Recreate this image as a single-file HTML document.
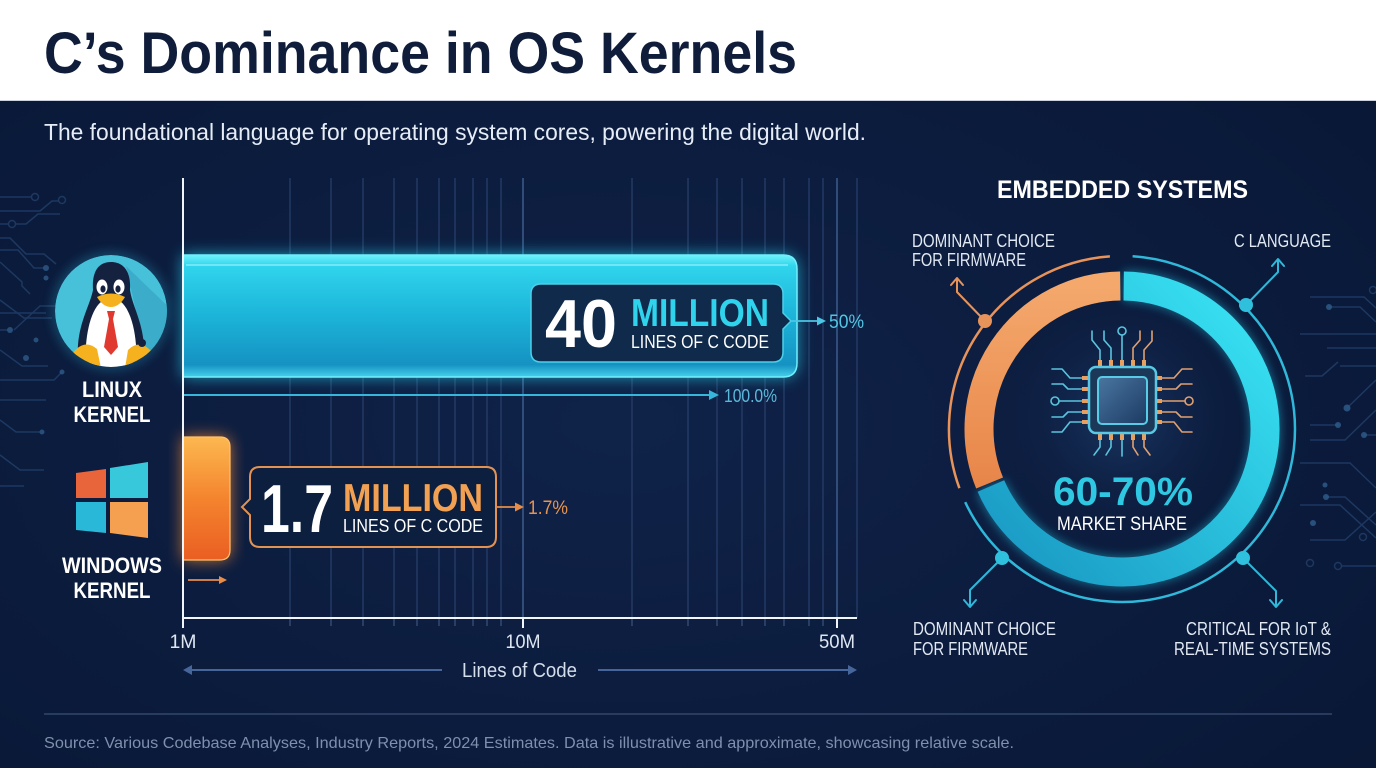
<!DOCTYPE html>
<html>
<head>
<meta charset="utf-8">
<style>
html,body{margin:0;padding:0;width:1376px;height:768px;overflow:hidden;background:#0a1a3a;}
svg{display:block;}
</style>
</head>
<body>
<svg width="1376" height="768" viewBox="0 0 1376 768" xmlns="http://www.w3.org/2000/svg" font-family="'Liberation Sans', Arial, sans-serif">
<defs>
  <radialGradient id="bg" cx="0.45" cy="0.55" r="0.75">
    <stop offset="0" stop-color="#0f2248"/>
    <stop offset="1" stop-color="#091735"/>
  </radialGradient>
  <linearGradient id="barC" x1="0" y1="0" x2="0" y2="1">
    <stop offset="0" stop-color="#6ff2fc"/>
    <stop offset="0.09" stop-color="#30d4ec"/>
    <stop offset="0.5" stop-color="#1cb4d9"/>
    <stop offset="0.9" stop-color="#1592c2"/>
    <stop offset="1" stop-color="#46d0ec"/>
  </linearGradient>
  <linearGradient id="barO" x1="0" y1="0" x2="0" y2="1">
    <stop offset="0" stop-color="#fcb850"/>
    <stop offset="0.5" stop-color="#f4842e"/>
    <stop offset="1" stop-color="#ea5e22"/>
  </linearGradient>
  <linearGradient id="ringC" x1="1" y1="0" x2="0" y2="1">
    <stop offset="0" stop-color="#3ae6f5"/>
    <stop offset="1" stop-color="#1896c2"/>
  </linearGradient>
  <linearGradient id="ringO" x1="0" y1="0" x2="0" y2="1">
    <stop offset="0" stop-color="#f4a86c"/>
    <stop offset="1" stop-color="#e8864a"/>
  </linearGradient>
  <linearGradient id="chipIn" x1="0" y1="0" x2="1" y2="1">
    <stop offset="0" stop-color="#4a76a0"/>
    <stop offset="1" stop-color="#1b3a63"/>
  </linearGradient>
  <radialGradient id="centerGlow" cx="0.5" cy="0.45" r="0.5">
    <stop offset="0" stop-color="#1c3a68" stop-opacity="0.9"/>
    <stop offset="1" stop-color="#0c1d3f" stop-opacity="0"/>
  </radialGradient>
  <filter id="blur8" x="-30%" y="-30%" width="160%" height="160%"><feGaussianBlur stdDeviation="8"/></filter>
  <filter id="blur5" x="-30%" y="-30%" width="160%" height="160%"><feGaussianBlur stdDeviation="5"/></filter>
  <filter id="blur3" x="-30%" y="-30%" width="160%" height="160%"><feGaussianBlur stdDeviation="3"/></filter>
  <clipPath id="pc"><circle cx="111" cy="311" r="56"/></clipPath>
</defs>

<!-- background -->
<rect x="0" y="0" width="1376" height="768" fill="url(#bg)"/>
<rect x="0" y="0" width="1376" height="101" fill="#ffffff"/>
<line x1="0" y1="100.5" x2="1376" y2="100.5" stroke="#c9d2de" stroke-width="1"/>

<text x="44" y="73" font-size="58" font-weight="bold" fill="#0f1d3b" textLength="753" lengthAdjust="spacingAndGlyphs">C’s Dominance in OS Kernels</text>
<text x="44" y="140" font-size="23" fill="#e6edf7" textLength="822" lengthAdjust="spacingAndGlyphs">The foundational language for operating system cores, powering the digital world.</text>

<!-- circuit decorations left -->
<g fill="none" stroke="#1f3c66" stroke-width="1.5" opacity="0.9">
  <path d="M0,197 H31"/><circle cx="35" cy="197" r="3.5"/>
  <path d="M0,211 H40 L52,201 H58"/><circle cx="62" cy="200" r="3.5"/>
  <path d="M0,224 H8"/><circle cx="12" cy="224" r="3.5"/><path d="M16,224 H26 L38,214 H60"/>
  <path d="M0,238 H10 L26,254 H44 L56,264"/>
  <path d="M0,250 H18 L34,268 H44"/>
  <path d="M0,262 L22,282 V286 L30,294"/>
  <path d="M0,300 L24,318 H52"/>
  <path d="M0,313 H46"/>
  <path d="M0,330 H8"/><path d="M14,330 L40,306 H56"/>
  <path d="M0,350 L22,366 H48"/>
  <path d="M0,380 H54 L62,372"/>
  <path d="M0,400 H46"/>
  <path d="M0,420 L16,432 H40"/>
  <path d="M0,455 L20,470 H44"/>
  <path d="M0,486 H24"/>
</g>
<g fill="#2e5a88" opacity="0.8">
  <circle cx="46" cy="268" r="3"/><circle cx="46" cy="278" r="2.5"/>
  <circle cx="10" cy="330" r="3"/><circle cx="36" cy="340" r="2.5"/>
  <circle cx="26" cy="358" r="3"/><circle cx="62" cy="372" r="2.5"/>
  <circle cx="42" cy="432" r="2.5"/>
</g>

<!-- circuit decorations right -->
<g fill="none" stroke="#1f3c66" stroke-width="1.5" opacity="0.9">
  <circle cx="1373" cy="290" r="3.5"/>
  <path d="M1310,297 H1364 L1376,308"/>
  <path d="M1329,307 H1360 L1376,322"/>
  <path d="M1300,334 H1376"/>
  <path d="M1327,348 H1376"/>
  <path d="M1340,366 H1376"/>
  <path d="M1305,376 H1322 L1338,362"/>
  <path d="M1347,408 L1376,380"/>
  <path d="M1310,425 H1338"/>
  <path d="M1310,440 H1345 L1376,410"/>
  <path d="M1364,435 H1376"/>
  <path d="M1300,463 H1350 L1376,488"/>
  <path d="M1326,497 H1345 L1376,525"/>
  <path d="M1300,505 H1340 L1376,538"/>
  <path d="M1310,540 H1345 L1376,512"/>
  <circle cx="1363" cy="537" r="3.5"/>
  <circle cx="1310" cy="563" r="3.5"/><circle cx="1338" cy="566" r="3.5"/>
  <path d="M1342,566 H1376"/>
</g>
<g fill="#2e5a88" opacity="0.85">
  <circle cx="1329" cy="307" r="3"/><circle cx="1347" cy="408" r="3.5"/>
  <circle cx="1338" cy="425" r="3"/><circle cx="1364" cy="435" r="3"/>
  <circle cx="1325" cy="485" r="2.5"/><circle cx="1326" cy="497" r="3"/>
  <circle cx="1313" cy="523" r="3"/>
</g>

<!-- gridlines -->
<g stroke="#28416b" stroke-width="1.2">
  <line x1="290" y1="178" x2="290" y2="618"/>
  <line x1="331" y1="178" x2="331" y2="618"/>
  <line x1="363" y1="178" x2="363" y2="618"/>
  <line x1="394" y1="178" x2="394" y2="618"/>
  <line x1="417" y1="178" x2="417" y2="618"/>
  <line x1="439" y1="178" x2="439" y2="618"/>
  <line x1="455" y1="178" x2="455" y2="618"/>
  <line x1="473" y1="178" x2="473" y2="618"/>
  <line x1="487" y1="178" x2="487" y2="618"/>
  <line x1="501" y1="178" x2="501" y2="618"/>
  <line x1="632" y1="178" x2="632" y2="618"/>
  <line x1="688" y1="178" x2="688" y2="618"/>
  <line x1="717" y1="178" x2="717" y2="618"/>
  <line x1="742" y1="178" x2="742" y2="618"/>
  <line x1="765" y1="178" x2="765" y2="618"/>
  <line x1="784" y1="178" x2="784" y2="618"/>
  <line x1="809" y1="178" x2="809" y2="618"/>
  <line x1="823" y1="178" x2="823" y2="618"/>
  <line x1="857" y1="178" x2="857" y2="618"/>
</g>
<g stroke="#3d5c8c" stroke-width="1.5">
  <line x1="523" y1="178" x2="523" y2="618"/>
  <line x1="837" y1="178" x2="837" y2="618"/>
</g>
<!-- minor ticks -->
<g stroke="#3a5580" stroke-width="1.2">
  <line x1="290" y1="618" x2="290" y2="626"/><line x1="331" y1="618" x2="331" y2="626"/>
  <line x1="363" y1="618" x2="363" y2="626"/><line x1="394" y1="618" x2="394" y2="626"/>
  <line x1="417" y1="618" x2="417" y2="626"/><line x1="439" y1="618" x2="439" y2="626"/>
  <line x1="455" y1="618" x2="455" y2="626"/><line x1="473" y1="618" x2="473" y2="626"/>
  <line x1="487" y1="618" x2="487" y2="626"/><line x1="501" y1="618" x2="501" y2="626"/>
  <line x1="632" y1="618" x2="632" y2="626"/><line x1="688" y1="618" x2="688" y2="626"/>
  <line x1="717" y1="618" x2="717" y2="626"/><line x1="742" y1="618" x2="742" y2="626"/>
  <line x1="765" y1="618" x2="765" y2="626"/><line x1="784" y1="618" x2="784" y2="626"/>
  <line x1="809" y1="618" x2="809" y2="626"/><line x1="823" y1="618" x2="823" y2="626"/>
</g>

<!-- Linux bar -->
<path d="M183,255 H783 Q797,255 797,269 V363 Q797,377 783,377 H183 Z" fill="#22cdea" opacity="0.75" filter="url(#blur8)"/>
<path d="M183,255 H783 Q797,255 797,269 V363 Q797,377 783,377 H183 Z" fill="url(#barC)" stroke="#72eefc" stroke-width="1.5"/>
<line x1="186" y1="265" x2="788" y2="265" stroke="#9ef6ff" stroke-width="2" opacity="0.55"/>

<!-- 40 million box -->
<path d="M541,284 H773 Q783,284 783,294 V313 L791,321 L783,329 V352 Q783,362 773,362 H541 Q531,362 531,352 V294 Q531,284 541,284 Z" fill="#0f2a4b" stroke="#4ccfea" stroke-width="1.5"/>
<text x="545" y="347" font-size="68" font-weight="bold" fill="#ffffff" textLength="72" lengthAdjust="spacingAndGlyphs">40</text>
<text x="631" y="326" font-size="39" font-weight="bold" fill="#2fd3eb" textLength="138" lengthAdjust="spacingAndGlyphs">MILLION</text>
<text x="631" y="348" font-size="18" fill="#ffffff" textLength="138" lengthAdjust="spacingAndGlyphs">LINES OF C CODE</text>

<line x1="791" y1="321" x2="820" y2="321" stroke="#4cc6e4" stroke-width="1.8"/>
<polygon points="826,321 817,316.5 817,325.5" fill="#4cc6e4"/>
<text x="829" y="328" font-size="19" fill="#52c6e4" textLength="35" lengthAdjust="spacingAndGlyphs">50%</text>

<!-- 100% line -->
<line x1="183" y1="395" x2="712" y2="395" stroke="#36b6da" stroke-width="2"/>
<polygon points="719,395 709,390 709,400" fill="#36b6da"/>
<text x="724" y="402" font-size="18" fill="#5bb8da" textLength="53" lengthAdjust="spacingAndGlyphs">100.0%</text>

<!-- Windows bar -->
<path d="M183,437 H220 Q230,437 230,447 V550 Q230,560 220,560 H183 Z" fill="#f78a30" opacity="0.8" filter="url(#blur8)"/>
<path d="M183,437 H220 Q230,437 230,447 V550 Q230,560 220,560 H183 Z" fill="url(#barO)" stroke="#ffc070" stroke-width="1.2"/>

<!-- 1.7 million box -->
<path d="M260,467 H486 Q496,467 496,477 V537 Q496,547 486,547 H260 Q250,547 250,537 V515 L242,507 L250,499 V477 Q250,467 260,467 Z" fill="#0c1f3e" stroke="#e39252" stroke-width="2"/>
<text x="261" y="532" font-size="68" font-weight="bold" fill="#ffffff" textLength="72" lengthAdjust="spacingAndGlyphs">1.7</text>
<text x="343" y="511" font-size="39" font-weight="bold" fill="#f2a052" textLength="140" lengthAdjust="spacingAndGlyphs">MILLION</text>
<text x="343" y="532" font-size="18" fill="#ffffff" textLength="140" lengthAdjust="spacingAndGlyphs">LINES OF C CODE</text>

<line x1="496" y1="507" x2="518" y2="507" stroke="#e88c48" stroke-width="1.8"/>
<polygon points="524,507 515,502.5 515,511.5" fill="#e88c48"/>
<text x="528" y="514" font-size="19" fill="#e8944e" textLength="40" lengthAdjust="spacingAndGlyphs">1.7%</text>

<line x1="188" y1="580" x2="220" y2="580" stroke="#e88c48" stroke-width="1.8"/>
<polygon points="227,580 219,576 219,584" fill="#e88c48"/>

<!-- axes -->
<line x1="183" y1="178" x2="183" y2="619" stroke="#f2f5fa" stroke-width="2"/>
<line x1="182" y1="618" x2="857" y2="618" stroke="#f2f5fa" stroke-width="2"/>
<g stroke="#f2f5fa" stroke-width="2">
  <line x1="183" y1="618" x2="183" y2="628"/>
  <line x1="523" y1="618" x2="523" y2="628"/>
  <line x1="837" y1="618" x2="837" y2="628"/>
</g>
<g font-size="19" fill="#dfe7f2" text-anchor="middle">
  <text x="183" y="648" textLength="27" lengthAdjust="spacingAndGlyphs">1M</text>
  <text x="523" y="648" textLength="35" lengthAdjust="spacingAndGlyphs">10M</text>
  <text x="837" y="648" textLength="36" lengthAdjust="spacingAndGlyphs">50M</text>
</g>
<text x="462" y="677" font-size="20" fill="#d5deeb" textLength="115" lengthAdjust="spacingAndGlyphs">Lines of Code</text>
<line x1="190" y1="670" x2="442" y2="670" stroke="#46659a" stroke-width="2"/>
<polygon points="183,670 192,665 192,675" fill="#46659a"/>
<line x1="598" y1="670" x2="850" y2="670" stroke="#46659a" stroke-width="2"/>
<polygon points="857,670 848,665 848,675" fill="#46659a"/>

<!-- Linux icon -->
<circle cx="111" cy="311" r="60" fill="#2bb6d6" opacity="0.25" filter="url(#blur5)"/>
<g clip-path="url(#pc)">
  <circle cx="111" cy="311" r="56" fill="#47c1da"/>
  <polygon points="126,266 180,318 180,380 146,380 138,320" fill="#38a6c4" opacity="0.8"/>
  <path d="M111,262 C96,262 92,275 93,290 C90,305 80,320 78,345 C76,365 90,374 111,374 C132,374 146,365 144,345 C142,320 132,305 130,290 C131,275 126,262 111,262 Z" fill="#15223f"/>
  <path d="M111,298 C96,298 88,320 86,345 C85,366 98,374 111,374 C124,374 137,366 136,345 C134,320 126,298 111,298 Z" fill="#ffffff"/>
  <ellipse cx="102" cy="287" rx="5.5" ry="7.5" fill="#ffffff"/>
  <ellipse cx="119" cy="287" rx="5.5" ry="7.5" fill="#ffffff"/>
  <ellipse cx="103" cy="289" rx="2.6" ry="3.6" fill="#15223f"/>
  <ellipse cx="118" cy="289" rx="2.6" ry="3.6" fill="#15223f"/>
  <path d="M97,297 Q111,290 125,297 Q119,307 111,307 Q103,307 97,297 Z" fill="#f5b21e"/>
  <polygon points="107,311 115,311 113,319 109,319" fill="#e03a30"/>
  <polygon points="109,319 113,319 118,347 111,355 104,347" fill="#e03a30"/>
  <path d="M72,354 Q84,338 97,349 L101,368 L70,368 Z" fill="#f5b21e"/>
  <path d="M152,352 Q140,338 128,350 L125,368 L154,368 Z" fill="#f5b21e"/>
  <circle cx="142" cy="343" r="4" fill="#15223f"/>
</g>
<g font-size="22" font-weight="bold" fill="#ffffff" text-anchor="middle">
  <text x="112" y="397" textLength="60" lengthAdjust="spacingAndGlyphs">LINUX</text>
  <text x="112" y="422" textLength="77" lengthAdjust="spacingAndGlyphs">KERNEL</text>
  <text x="112" y="573" textLength="100" lengthAdjust="spacingAndGlyphs">WINDOWS</text>
  <text x="112" y="598" textLength="77" lengthAdjust="spacingAndGlyphs">KERNEL</text>
</g>

<!-- Windows logo -->
<polygon points="76,473 106,469 106,498 76,498" fill="#e8643a"/>
<polygon points="110,468 148,462 148,498 110,498" fill="#38c8dc"/>
<polygon points="76,502 106,502 106,533 76,530" fill="#2ab8d8"/>
<polygon points="110,502 148,502 148,538 110,533" fill="#f5a050"/>

<!-- Embedded systems -->
<text x="997" y="198" font-size="25" font-weight="bold" fill="#ffffff" textLength="251" lengthAdjust="spacingAndGlyphs">EMBEDDED SYSTEMS</text>
<g font-size="18" fill="#e2e9f3">
  <text x="912" y="247" textLength="143" lengthAdjust="spacingAndGlyphs">DOMINANT CHOICE</text>
  <text x="912" y="266" textLength="114" lengthAdjust="spacingAndGlyphs">FOR FIRMWARE</text>
  <text x="1234" y="247" textLength="97" lengthAdjust="spacingAndGlyphs">C LANGUAGE</text>
  <text x="913" y="635" textLength="143" lengthAdjust="spacingAndGlyphs">DOMINANT CHOICE</text>
  <text x="913" y="655" textLength="115" lengthAdjust="spacingAndGlyphs">FOR FIRMWARE</text>
  <text x="1186" y="635" textLength="145" lengthAdjust="spacingAndGlyphs">CRITICAL FOR IoT &amp;</text>
  <text x="1174" y="655" textLength="157" lengthAdjust="spacingAndGlyphs">REAL-TIME SYSTEMS</text>
</g>

<!-- donut -->
<circle cx="1122" cy="429" r="128" fill="url(#centerGlow)"/>
<path d="M1123.7,286 A143,143 0 1 1 990.9,486" fill="none" stroke="#22c8e6" stroke-width="30" opacity="0.5" filter="url(#blur5)"/>
<path d="M1123.7,286 A143,143 0 1 1 990.9,486" fill="none" stroke="url(#ringC)" stroke-width="29"/>
<path d="M989.6,483 A143,143 0 0 1 1120.3,286" fill="none" stroke="url(#ringO)" stroke-width="29"/>

<path d="M959.4,488.2 A173,173 0 0 1 1109.9,256.4" fill="none" stroke="#e8935a" stroke-width="2.5"/>
<path d="M1132.6,256.3 A173,173 0 1 1 965.2,502.1" fill="none" stroke="#2fb8da" stroke-width="2.5"/>

<!-- leaders -->
<g fill="none" stroke-width="2" stroke-linecap="round" stroke-linejoin="round">
  <path d="M985,321 L957,292 V279 M951,285 L957,278 L963,285" stroke="#e8935a"/>
  <path d="M1246,305 L1278,272 V260 M1272,266 L1278,259 L1284,266" stroke="#2fb8da"/>
  <path d="M1002,558 L970,590 V606 M964,600 L970,607 L976,600" stroke="#2fb8da"/>
  <path d="M1243,558 L1276,591 V606 M1270,600 L1276,607 L1282,600" stroke="#2fb8da"/>
</g>
<circle cx="985" cy="321" r="7" fill="#e8935a"/>
<circle cx="1246" cy="305" r="7" fill="#2fc0de"/>
<circle cx="1002" cy="558" r="7" fill="#2fc0de"/>
<circle cx="1243" cy="558" r="7" fill="#2fc0de"/>

<!-- chip -->
<g fill="none" stroke-width="1.6" stroke-linecap="round" stroke-linejoin="round">
  <g stroke="#5ac4de">
    <path d="M1100,360 V350 L1092,340 V331"/>
    <path d="M1111,360 V348 L1104,340 V331"/>
    <path d="M1122,360 V335"/>
    <circle cx="1122" cy="331" r="4"/>
    <path d="M1085,378 H1070 L1062,369 H1052"/>
    <path d="M1085,389 H1068 L1063,384 H1052"/>
    <path d="M1085,401 H1059"/>
    <circle cx="1055" cy="401" r="4"/>
    <path d="M1085,412 H1068 L1063,417 H1052"/>
    <path d="M1085,422 H1070 L1062,432 H1052"/>
    <path d="M1100,440 V447 L1094,455"/>
    <path d="M1111,440 V447 L1106,455"/>
    <path d="M1122,440 V456"/>
  </g>
  <g stroke="#e0a070">
    <path d="M1133,360 V348 L1140,340 V331"/>
    <path d="M1144,360 V350 L1152,341 V331"/>
    <path d="M1159,378 H1174 L1182,369 H1192"/>
    <path d="M1159,389 H1176 L1181,384 H1192"/>
    <path d="M1159,401 H1185"/>
    <circle cx="1189" cy="401" r="4"/>
    <path d="M1159,412 H1176 L1181,417 H1192"/>
    <path d="M1159,422 H1174 L1182,432 H1192"/>
    <path d="M1133,440 V447 L1138,455"/>
    <path d="M1144,440 V447 L1150,455"/>
  </g>
</g>
<g fill="#e8a060">
  <rect x="1098" y="360" width="4" height="7"/><rect x="1109" y="360" width="4" height="7"/>
  <rect x="1120" y="360" width="4" height="7"/><rect x="1131" y="360" width="4" height="7"/>
  <rect x="1142" y="360" width="4" height="7"/>
  <rect x="1098" y="433" width="4" height="7"/><rect x="1109" y="433" width="4" height="7"/>
  <rect x="1120" y="433" width="4" height="7"/><rect x="1131" y="433" width="4" height="7"/>
  <rect x="1142" y="433" width="4" height="7"/>
  <rect x="1082" y="376" width="7" height="4"/><rect x="1082" y="387" width="7" height="4"/>
  <rect x="1082" y="399" width="7" height="4"/><rect x="1082" y="410" width="7" height="4"/>
  <rect x="1082" y="420" width="7" height="4"/>
  <rect x="1155" y="376" width="7" height="4"/><rect x="1155" y="387" width="7" height="4"/>
  <rect x="1155" y="399" width="7" height="4"/><rect x="1155" y="410" width="7" height="4"/>
  <rect x="1155" y="420" width="7" height="4"/>
</g>
<rect x="1089" y="367" width="67" height="66" rx="7" fill="#1c3858" stroke="#58c8e4" stroke-width="2.5"/>
<rect x="1098" y="377" width="49" height="47" rx="4" fill="url(#chipIn)" stroke="#58cbe6" stroke-width="2"/>

<text x="1053" y="505" font-size="40" font-weight="bold" fill="#2ec8e2" textLength="140" lengthAdjust="spacingAndGlyphs">60-70%</text>
<text x="1057" y="530" font-size="19" fill="#ffffff" textLength="130" lengthAdjust="spacingAndGlyphs">MARKET SHARE</text>

<!-- footer -->
<line x1="44" y1="714" x2="1332" y2="714" stroke="#33476c" stroke-width="1.5"/>
<text x="44" y="748" font-size="16" fill="#7f8fae" textLength="970" lengthAdjust="spacingAndGlyphs">Source: Various Codebase Analyses, Industry Reports, 2024 Estimates. Data is illustrative and approximate, showcasing relative scale.</text>
</svg>
</body>
</html>
